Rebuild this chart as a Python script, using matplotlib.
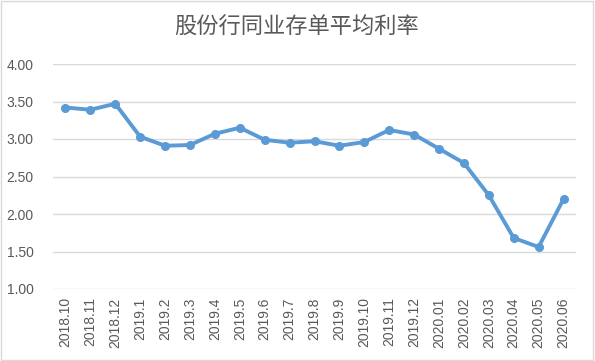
import matplotlib
matplotlib.use("Agg")
import matplotlib.pyplot as plt
from matplotlib.patches import Rectangle

categories = ["2018.10", "2018.11", "2018.12", "2019.1", "2019.2", "2019.3", "2019.4",
              "2019.5", "2019.6", "2019.7", "2019.8", "2019.9", "2019.10", "2019.11",
              "2019.12", "2020.01", "2020.02", "2020.03", "2020.04", "2020.05", "2020.06"]
values = [3.42, 3.39, 3.47, 3.03, 2.91, 2.92, 3.07, 3.15, 2.99, 2.95, 2.97, 2.91,
          2.96, 3.12, 3.06, 2.87, 2.68, 2.25, 1.68, 1.56, 2.20]
yticks = [1.0, 1.5, 2.0, 2.5, 3.0, 3.5, 4.0]
title = "股份行同业存单平均利率"

plt.rcParams['font.family'] = ['Liberation Sans', 'Noto Sans CJK SC', 'DejaVu Sans']

fig = plt.figure(figsize=(5.95, 3.61), dpi=100)
ax = fig.add_axes([53/595, 1-289/361, (576-53)/595, (289-64)/361])

x = list(range(len(categories)))
ax.plot(x, values, color='#5B9BD5', linewidth=2.8, marker='o', markersize=5.5,
        solid_capstyle='round', solid_joinstyle='round', zorder=3)

ax.set_xlim(-0.5, len(categories) - 0.5)
ax.set_ylim(1.0, 4.0)
ax.set_yticks(yticks)
ax.set_yticklabels([f"{v:.2f}" for v in yticks])
ax.set_xticks(x)
ax.set_xticklabels(categories, rotation=90)
ax.grid(axis='y', color='#D9D9D9', linewidth=1)
ax.set_axisbelow(True)
for s in ax.spines.values():
    s.set_visible(False)
ax.tick_params(axis='both', length=0, labelsize=10, labelcolor='#595959')
ax.tick_params(axis='y', pad=14)
ax.tick_params(axis='x', pad=6)

fig.text(297/595, 1-27/361, title, ha='center', va='center', fontsize=16,
         color='#595959', family=['Noto Sans CJK SC', 'DejaVu Sans'])

fig.patches.append(Rectangle((0.002, 0.003), 0.995, 0.994, transform=fig.transFigure,
                             fill=False, edgecolor='#D9D9D9', linewidth=1))

fig.savefig("out.png", dpi=100)
